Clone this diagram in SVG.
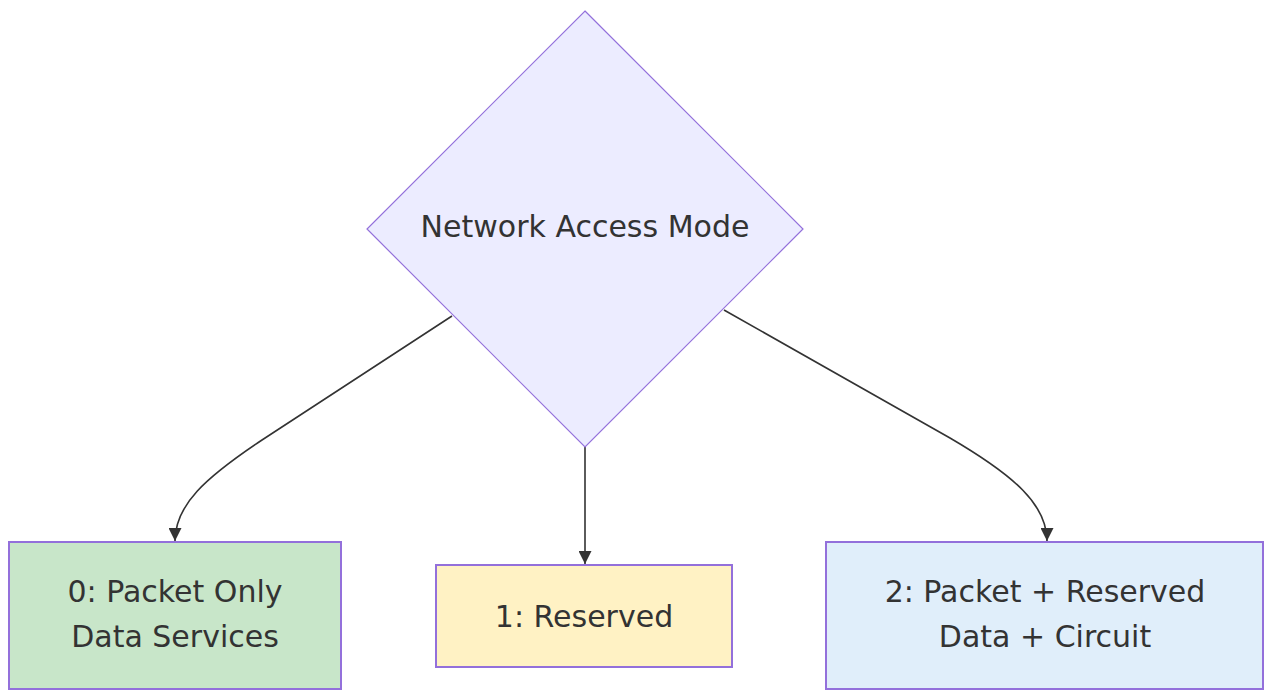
<svg xmlns="http://www.w3.org/2000/svg" width="1265" height="691" viewBox="0 0 1265 691">
<style>
.lbl{font-family:"DejaVu Sans",Verdana,sans-serif;font-size:30px;fill:#333;text-anchor:middle}
.box{stroke:#9370DB;stroke-width:2}
.edge{fill:none;stroke:#333;stroke-width:1.6}
</style>
<defs>
<marker id="arr" viewBox="0 0 10 10" refX="10" refY="5" markerUnits="userSpaceOnUse" markerWidth="13" markerHeight="13" orient="auto">
<path d="M0,0 L10,5 L0,10 z" fill="#333"/>
</marker>
</defs>
<rect width="1265" height="691" fill="#fff"/>
<g id="edges">
<path class="edge" d="M452,316 L262,440 C205,478 175,505 175,541" marker-end="url(#arr)"/>
<path class="edge" d="M585,447 L585,564" marker-end="url(#arr)"/>
<path class="edge" d="M724,310 L950,438 C1015,476 1047,505 1047,541" marker-end="url(#arr)"/>
</g>
<g id="decision">
<polygon points="585,11 803,229 585,447 367,229" fill="#ECECFF" stroke="#9370DB" stroke-width="1.2"/>
<text class="lbl" x="585" y="237">Network Access Mode</text>
</g>
<g id="mode0">
<rect class="box" x="9" y="542" width="332" height="147" fill="#C8E6C9"/>
<text class="lbl" x="175" y="602">0: Packet Only</text>
<text class="lbl" x="175" y="647">Data Services</text>
</g>
<g id="mode1">
<rect class="box" x="436" y="565" width="296" height="102" fill="#FFF2C4"/>
<text class="lbl" x="584" y="627">1: Reserved</text>
</g>
<g id="mode2">
<rect class="box" x="826" y="542" width="437" height="147" fill="#E0EEFA"/>
<text class="lbl" x="1045" y="602">2: Packet + Reserved</text>
<text class="lbl" x="1045" y="647">Data + Circuit</text>
</g>
</svg>
